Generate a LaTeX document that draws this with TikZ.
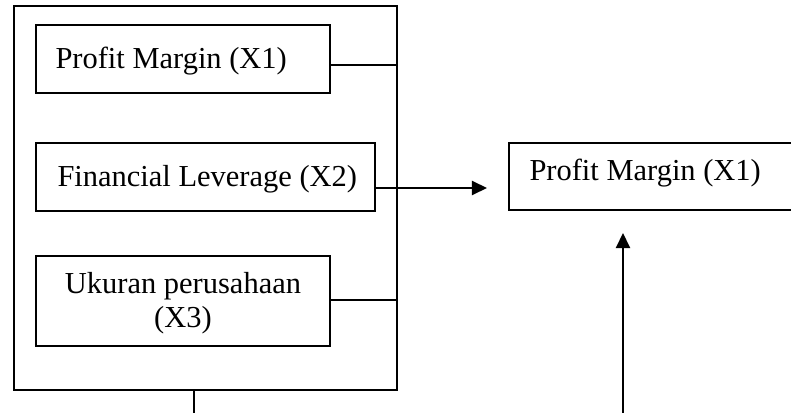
\documentclass[tikz,border=0pt]{standalone}
\usepackage{fontspec}
\setmainfont{Liberation Serif}
\usetikzlibrary{arrows.meta}
\begin{document}
\begin{tikzpicture}[x=0.397pt,y=-0.397pt,
  boxline/.style={draw,line width=0.8pt,inner sep=0pt,outer sep=0pt,rectangle,anchor=north west},
  lbl/.style={font=\fontsize{12.1}{13.9}\selectfont,inner sep=0pt,anchor=base west},
  conn/.style={line width=0.8pt},
  arr/.style={line width=0.8pt,-{Triangle[length=6pt,width=5.6pt]}}]
\useasboundingbox (0,0) rectangle (791,413);
\clip (0,0) rectangle (791,413);
% outer group box
\node[boxline,minimum width=383*0.397pt,minimum height=384*0.397pt] (outer) at (14,6) {};
% inner boxes
\node[boxline,minimum width=294*0.397pt,minimum height=68*0.397pt] (b1) at (36,25) {};
\node[boxline,minimum width=339*0.397pt,minimum height=68*0.397pt] (b2) at (36,143) {};
\node[boxline,minimum width=294*0.397pt,minimum height=90*0.397pt] (b3) at (36,256) {};
% right box (cut at the page edge)
\node[boxline,minimum width=300*0.397pt,minimum height=67*0.397pt] (y) at (509,143) {};
% texts
\node[lbl] (t1) at (55,68) {Profit Margin (X1)};
\node[lbl] (t2) at (57,187) {Financial Leverage (X2)};
\node[lbl,anchor=base] (t3a) at (183,293) {Ukuran perusahaan};
\node[lbl,anchor=base] (t3b) at (183,328) {(X3)};
\node[lbl] (ty) at (529,180) {Profit Margin (X1)};
% connectors
\coordinate (arrend) at (487,188);
\coordinate (botl) at (194,420);
\coordinate (botr) at (623,420);
\coordinate (uptip) at (623,233);
\draw[conn] (b1.east |- 0,65) -- (outer.east |- 0,65);
\draw[conn] (b3.east |- 0,300) -- (outer.east |- 0,300);
\draw[arr] (b2.east |- arrend) -- (arrend);
\draw[conn] (outer.south -| botl) -- (botl);
\draw[arr] (botr) -- (uptip);
\end{tikzpicture}
\end{document}
